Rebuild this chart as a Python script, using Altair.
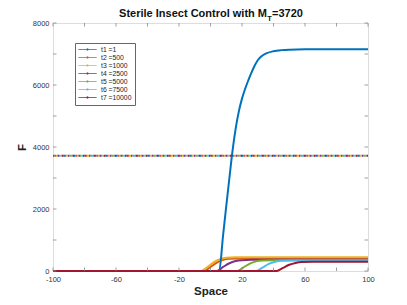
import altair as alt
import pandas as pd

# ---------------- data ----------------
series = ["t1 =1", "t2 =500", "t3 =1000", "t4 =2500", "t5 =5000", "t6 =7500", "t7 =10000"]
colors = ["#0072BD", "#D95319", "#EDB120", "#7E2F8E", "#77AC30", "#4DBEEE", "#A2142F"]
MT = 3720

t1_x = [-100, 5.5, 8, 10, 12, 14, 16, 18, 20, 22, 24, 26, 28, 30, 32, 35, 40, 45, 50, 60, 100]
t1_y = [0, 0, 1160, 2090, 3000, 3880, 4600, 5150, 5560, 5880, 6150, 6400, 6620, 6800, 6910,
        7010, 7090, 7125, 7140, 7150, 7150]

t2_x = [-100, -4, 0, 4, 8, 12, 18, 100]
t2_y = [0, 0, 130, 270, 360, 395, 405, 405]

t3_x = [-100, -6, -2, 2, 6, 10, 16, 100]
t3_y = [0, 0, 130, 280, 380, 425, 440, 440]

t4_x = [-100, 4, 8, 12, 16, 20, 26, 100]
t4_y = [0, 0, 130, 250, 320, 350, 360, 360]

t5_x = [-100, 17, 21, 25, 29, 33, 40, 100]
t5_y = [0, 0, 120, 240, 310, 340, 350, 350]

t6_x = [-100, 29, 33, 37, 41, 45, 52, 100]
t6_y = [0, 0, 110, 230, 300, 330, 340, 340]

t7_x = [-100, 42, 46, 50, 54, 58, 65, 100]
t7_y = [0, 0, 100, 200, 260, 290, 300, 300]

x_ticks = [-100, -80, -60, -40, -20, 0, 20, 40, 60, 80, 100]
y_ticks = [0, 1000, 2000, 3000, 4000, 5000, 6000, 7000, 8000]

title_main = "Sterile Insect Control with M"
title_sub = "T"
title_end = "=3720"

# ---------------- tables ----------------
xs_all = [t1_x, t2_x, t3_x, t4_x, t5_x, t6_x, t7_x]
ys_all = [t1_y, t2_y, t3_y, t4_y, t5_y, t6_y, t7_y]
rows = []
for s, xs, ys in zip(series, xs_all, ys_all):
    for xv, yv in zip(xs, ys):
        rows.append({"series": s, "x": xv, "y": yv})
curves = pd.DataFrame(rows)

hrows = []
for s in series:
    hrows.append({"series": s, "x": x_ticks[0], "y": MT})
    hrows.append({"series": s, "x": x_ticks[-1], "y": MT})
hlines = pd.DataFrame(hrows)

W, H = 315, 248
FONT = "Liberation Sans"
AX = "#888888"

xscale = alt.Scale(domain=[-100, 100], nice=False, zero=False)
yscale = alt.Scale(domain=[0, 8000], nice=False)
cscale = alt.Scale(domain=series, range=colors)

xenc = alt.X("x:Q", scale=xscale, axis=alt.Axis(
    values=x_ticks, title="Space", labelExpr="datum.value + ''", grid=False, domain=False,
    ticks=False, labelPadding=4, labelFontSize=7.5, labelFont=FONT, labelColor="#333333",
    titleFont=FONT, titleFontSize=11.5, titleFontWeight="bold", titleColor="#222222",
    titleX=W / 2, titleY=20, titleBaseline="middle", labelFlush=False))
yenc = alt.Y("y:Q", scale=yscale, axis=alt.Axis(
    values=y_ticks, title="F", labelExpr="datum.value + ''", grid=False, domain=False,
    ticks=False, labelPadding=4, labelFontSize=7.5, labelFont=FONT, labelColor="#333333",
    titleFont=FONT, titleFontSize=11.5, titleFontWeight="bold", titleColor="#222222",
    titleX=-31, titleY=H / 2, titleBaseline="middle", titleAngle=-90, labelFlush=False))

legend = alt.Legend(
    title=None, orient="none", legendX=22, legendY=20, fillColor="white",
    strokeColor="#666666", padding=3, labelFont=FONT, labelFontSize=6.8,
    labelColor="#222222", symbolType="M-3,0H3M-0.2,-0.2H0.2V0.2H-0.2Z", symbolSize=36,
    symbolStrokeWidth=1, symbolOffset=6, labelOffset=10, rowPadding=0,
    symbolDash=[1, 0], symbolFillColor="transparent")

color = alt.Color("series:N", scale=cscale, legend=legend)

layers = []
# dotted horizontal lines at M_T (one per series, interleaved)
for i, s in enumerate(series):
    layers.append(
        alt.Chart(hlines).transform_filter(alt.datum.series == s)
        .mark_line(strokeWidth=2, strokeDash=[1.5, 9.0], strokeDashOffset=-1.5 * i)
        .encode(x=xenc, y=yenc, color=color)
    )

mid = [series[1], series[2], series[3], series[4], series[5]]
layers.append(
    alt.Chart(curves).transform_filter(alt.FieldOneOfPredicate(field="series", oneOf=mid))
    .mark_line(strokeWidth=2, interpolate="monotone")
    .encode(x=xenc, y=yenc, color=color, detail="series:N")
)
layers.append(
    alt.Chart(curves).transform_filter(alt.datum.series == series[0])
    .mark_line(strokeWidth=2, interpolate="monotone")
    .encode(x=xenc, y=yenc, color=color)
)
layers.append(
    alt.Chart(curves).transform_filter(alt.datum.series == series[6])
    .mark_line(strokeWidth=2, interpolate="monotone")
    .encode(x=xenc, y=yenc, color=color)
)

# inward tick marks (MATLAB style box)
xt = pd.DataFrame({"x": x_ticks})
yt = pd.DataFrame({"y": y_ticks})
TL = 3.5
layers.append(alt.Chart(xt).mark_rule(color=AX, strokeWidth=0.8).encode(
    x=alt.X("x:Q", scale=xscale), y=alt.value(H), y2=alt.value(H - TL)))
layers.append(alt.Chart(xt).mark_rule(color=AX, strokeWidth=0.8).encode(
    x=alt.X("x:Q", scale=xscale), y=alt.value(0), y2=alt.value(TL)))
layers.append(alt.Chart(yt).mark_rule(color=AX, strokeWidth=0.8).encode(
    y=alt.Y("y:Q", scale=yscale), x=alt.value(0), x2=alt.value(TL)))
layers.append(alt.Chart(yt).mark_rule(color=AX, strokeWidth=0.8).encode(
    y=alt.Y("y:Q", scale=yscale), x=alt.value(W), x2=alt.value(W - TL)))

# title with subscript
one = pd.DataFrame({"a": [0]})
XM = 214
TY = -6
layers.append(alt.Chart(one).mark_text(text=title_main, font=FONT, fontSize=11, fontWeight="bold",
                                       align="right", baseline="alphabetic", color="#111111")
              .encode(x=alt.value(XM), y=alt.value(TY)))
layers.append(alt.Chart(one).mark_text(text=title_sub, font=FONT, fontSize=7.5, fontWeight="bold",
                                       align="left", baseline="alphabetic", color="#111111")
              .encode(x=alt.value(XM + 0.3), y=alt.value(TY + 3.5)))
layers.append(alt.Chart(one).mark_text(text=title_end, font=FONT, fontSize=11, fontWeight="bold",
                                       align="left", baseline="alphabetic", color="#111111")
              .encode(x=alt.value(XM + 5), y=alt.value(TY)))

chart = alt.layer(*layers).properties(
    width=W, height=H,
    autosize=alt.AutoSizeParams(type="none"),
    padding={"left": 45, "top": 15, "right": 16, "bottom": 26},
).configure_view(stroke=AX, strokeWidth=1).configure(background="white")

chart.save("out.html", embed_options={"renderer": "svg", "actions": False})
